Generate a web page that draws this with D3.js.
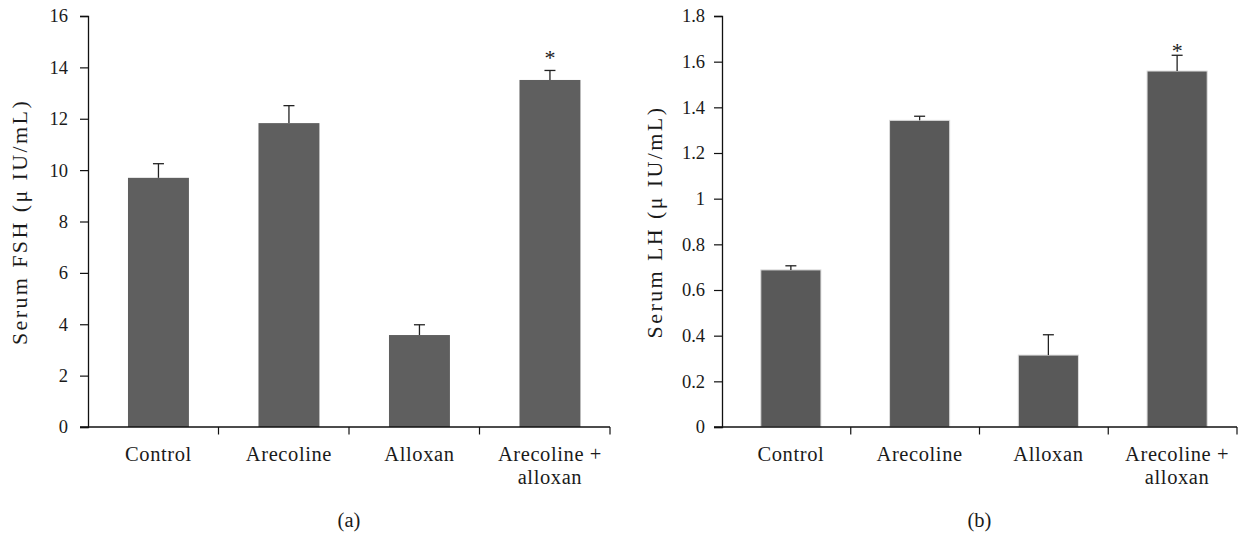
<!DOCTYPE html>
<html><head><meta charset="utf-8">
<script src="https://cdn.jsdelivr.net/npm/d3@7"></script>
<style>
html,body{margin:0;padding:0;background:#fff;}
svg text{font-family:"Liberation Serif","Times New Roman",serif;fill:#1a1a1a;}
</style></head>
<body><svg id="c" width="1239" height="535"></svg>
<script>
const categories = ["Control", "Arecoline", "Alloxan", "Arecoline + alloxan"];
const categoryLines = [["Control"], ["Arecoline"], ["Alloxan"], ["Arecoline +", "alloxan"]];
const fshMean = [9.70, 11.83, 3.58, 13.51];
const fshErr  = [0.55, 0.68, 0.40, 0.37];
const lhMean  = [0.688, 1.343, 0.315, 1.559];
const lhErr   = [0.018, 0.018, 0.089, 0.069];
const significant = [false, false, false, true];
const fshTicks = [0, 2, 4, 6, 8, 10, 12, 14, 16];
const lhTicks  = [0, 0.2, 0.4, 0.6, 0.8, 1, 1.2, 1.4, 1.6, 1.8];
const fshTitle = "Serum FSH (\u03bc IU/mL)";
const lhTitle  = "Serum LH (\u03bc IU/mL)";
const panelLabels = ["(a)", "(b)"];

const svg = d3.select("#c");

function panel(o) {
  const g = svg.append("g");
  const y = d3.scaleLinear().domain([0, o.ticks[o.ticks.length - 1]]).range([427, 16]);
  const x = d3.scaleBand().domain(categories).range([o.x0, o.x1]);
  const xb = d3.scaleBand().domain(categories).range([o.x0 + o.shift, o.x1 + o.shift])
    .paddingInner(0.533).paddingOuter(0.2665);

  // bars
  g.selectAll("rect.bar").data(categories).join("rect")
    .attr("x", d => xb(d)).attr("width", xb.bandwidth())
    .attr("y", (d, i) => y(o.mean[i])).attr("height", (d, i) => y(0) - y(o.mean[i]))
    .attr("fill", o.fill).attr("stroke", o.stroke).attr("stroke-width", o.stroke === "none" ? 0 : 1);

  // error bars
  const eb = g.selectAll("g.err").data(categories).join("g");
  eb.append("line")
    .attr("x1", d => xb(d) + xb.bandwidth() / 2).attr("x2", d => xb(d) + xb.bandwidth() / 2)
    .attr("y1", (d, i) => y(o.mean[i])).attr("y2", (d, i) => y(o.mean[i] + o.err[i]))
    .attr("stroke", "#222").attr("stroke-width", 1.3);
  eb.append("line")
    .attr("x1", d => xb(d) + xb.bandwidth() / 2 - 5.5).attr("x2", d => xb(d) + xb.bandwidth() / 2 + 5.5)
    .attr("y1", (d, i) => y(o.mean[i] + o.err[i])).attr("y2", (d, i) => y(o.mean[i] + o.err[i]))
    .attr("stroke", "#222").attr("stroke-width", 1.3);

  // significance
  g.selectAll("text.sig").data(categories.filter((d, i) => significant[i])).join("text")
    .attr("x", d => xb(d) + xb.bandwidth() / 2)
    .attr("y", d => { const i = categories.indexOf(d); return y(o.mean[i] + o.err[i]) - o.sigGap; })
    .attr("text-anchor", "middle").attr("font-size", 22).text("*");

  // y axis
  const ya = g.append("g").attr("transform", `translate(${o.x0},0)`)
    .call(d3.axisLeft(y).tickValues(o.ticks).tickSize(8).tickPadding(o.tickPad).tickFormat(d3.format("")));
  ya.select(".domain").attr("stroke", "#111").attr("stroke-width", 1.3);
  ya.selectAll(".tick line").attr("stroke", "#111").attr("stroke-width", 1.2);
  ya.selectAll(".tick text").attr("font-size", 18.5).attr("fill", "#1a1a1a");

  // x axis (tick marks at category boundaries)
  const bounds = categories.map(d => x(d)).concat([o.x1]);
  g.append("line").attr("x1", o.x0 - 8).attr("x2", o.x1).attr("y1", y(0)).attr("y2", y(0))
    .attr("stroke", "#111").attr("stroke-width", 1.5);
  g.selectAll("line.xt").data(bounds.slice(1)).join("line")
    .attr("x1", d => d).attr("x2", d => d).attr("y1", y(0)).attr("y2", y(0) + 7.5)
    .attr("stroke", "#111").attr("stroke-width", 1.2);

  // category labels
  const cl = g.selectAll("text.cat").data(categories).join("text")
    .attr("x", d => xb(d) + xb.bandwidth() / 2).attr("y", 461)
    .attr("text-anchor", "middle").attr("font-size", 20.5).attr("letter-spacing", 0.6);
  cl.each(function (d, i) {
    d3.select(this).selectAll("tspan").data(categoryLines[i]).join("tspan")
      .attr("x", xb(d) + xb.bandwidth() / 2).attr("dy", (t, j) => j === 0 ? 0 : 23).text(t => t);
  });

  // y title
  g.append("text").attr("transform", `translate(${o.titleX},${222}) rotate(-90)`)
    .attr("text-anchor", "middle").attr("font-size", 22).attr("letter-spacing", 2.4).text(o.title);

  // panel label
  g.append("text").attr("x", (o.x0 + o.x1) / 2).attr("y", 527)
    .attr("text-anchor", "middle").attr("font-size", 20.5).text(o.panelLabel);
}

panel({ x0: 88, x1: 610, shift: 5.2, mean: fshMean, err: fshErr, ticks: fshTicks,
        fill: "#5f5f5f", stroke: "none", sigGap: 5, tickPad: 12, titleX: 27,
        title: fshTitle, panelLabel: panelLabels[0] });
panel({ x0: 722, x1: 1237, shift: 4.5, mean: lhMean, err: lhErr, ticks: lhTicks,
        fill: "#595959", stroke: "#dcdcdc", sigGap: -3, tickPad: 9, titleX: 662,
        title: lhTitle, panelLabel: panelLabels[1] });
</script></body></html>
